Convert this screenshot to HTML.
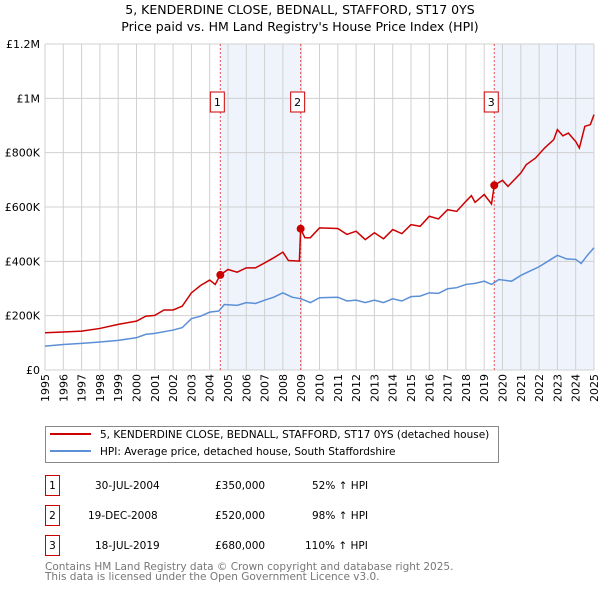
<!DOCTYPE html>
<html><head><meta charset="utf-8"><style>
body{margin:0;background:#fff;font-family:"DejaVu Sans","Liberation Sans",sans-serif;}
</style></head><body>
<svg width="600" height="590" xmlns="http://www.w3.org/2000/svg" font-family="DejaVu Sans, Liberation Sans, sans-serif">
<text x="300" y="14" text-anchor="middle" font-size="12.5">5, KENDERDINE CLOSE, BEDNALL, STAFFORD, ST17 0YS</text>
<text x="300" y="31" text-anchor="middle" font-size="12.5">Price paid vs. HM Land Registry's House Price Index (HPI)</text>
<g id="plot"></g>
<g>
<rect x="45.5" y="426.5" width="453" height="36" fill="#fff" stroke="#888"/>
<line x1="50" y1="434" x2="91" y2="434" stroke="#cc0000" stroke-width="2"/>
<text x="100" y="438" font-size="10.5">5, KENDERDINE CLOSE, BEDNALL, STAFFORD, ST17 0YS (detached house)</text>
<line x1="50" y1="451" x2="91" y2="451" stroke="#5b8fd6" stroke-width="2"/>
<text x="100" y="455" font-size="10.5">HPI: Average price, detached house, South Staffordshire</text>
</g>
<g font-size="10.5">
<rect x="45.5" y="475.5" width="14" height="20" fill="#fff" stroke="#cc0000"/><text x="52.5" y="489" text-anchor="middle">1</text>
<text x="95" y="489">30-JUL-2004</text><text x="215" y="489">£350,000</text><text x="312" y="489">52% ↑ HPI</text>
<rect x="45.5" y="505.5" width="14" height="20" fill="#fff" stroke="#cc0000"/><text x="52.5" y="519" text-anchor="middle">2</text>
<text x="88" y="519">19-DEC-2008</text><text x="215" y="519">£520,000</text><text x="312" y="519">98% ↑ HPI</text>
<rect x="45.5" y="535.5" width="14" height="20" fill="#fff" stroke="#cc0000"/><text x="52.5" y="549" text-anchor="middle">3</text>
<text x="95" y="549">18-JUL-2019</text><text x="215" y="549">£680,000</text><text x="305" y="549">110% ↑ HPI</text>
</g>
<text x="45" y="570" font-size="10.5" fill="#777">Contains HM Land Registry data © Crown copyright and database right 2025.</text>
<text x="45" y="580" font-size="10.5" fill="#777">This data is licensed under the Open Government Licence v3.0.</text>
</svg>
<script>
const yTicks=[0,200,400,600,800,1000,1200];
const yTickLabels=["£0","£200K","£400K","£600K","£800K","£1M","£1.2M"];
const years=[1995,1996,1997,1998,1999,2000,2001,2002,2003,2004,2005,2006,2007,2008,2009,2010,2011,2012,2013,2014,2015,2016,2017,2018,2019,2020,2021,2022,2023,2024,2025];
const hpiT=[1995,1996,1997,1998,1999,2000,2000.5,2001,2002,2002.5,2003,2003.5,2004,2004.5,2004.8,2005.5,2006,2006.5,2007,2007.5,2008,2008.5,2009,2009.5,2010,2011,2011.5,2012,2012.5,2013,2013.5,2014,2014.5,2015,2015.5,2016,2016.5,2017,2017.5,2018,2018.5,2019,2019.4,2019.8,2020.5,2021,2021.5,2022,2022.5,2023,2023.5,2024,2024.3,2024.6,2025];
const hpiV=[88,94,98,103,109,119,131,135,147,156,189,198,213,217,241,238,248,245,257,268,284,268,262,248,266,268,254,257,248,257,248,262,254,270,272,284,282,299,303,315,319,327,315,333,327,348,364,380,401,422,409,407,392,419,450];
const priceT=[1995,1996,1997,1998,1999,2000,2000.5,2001,2001.5,2002,2002.5,2003,2003.5,2004,2004.3,2004.58,2005,2005.5,2006,2006.5,2007,2007.5,2008,2008.3,2008.9,2008.97,2009.2,2009.5,2010,2011,2011.5,2012,2012.5,2013,2013.5,2014,2014.5,2015,2015.5,2016,2016.5,2017,2017.5,2018,2018.3,2018.5,2019,2019.4,2019.55,2020,2020.3,2021,2021.3,2021.8,2022.3,2022.8,2023,2023.3,2023.6,2024,2024.2,2024.5,2024.8,2025];
const priceV=[137,140,143,153,168,180,198,201,221,221,235,284,311,331,315,350,370,360,376,376,394,413,434,403,401,520,487,487,523,521,499,511,480,505,483,517,502,535,529,566,556,590,584,621,642,617,646,611,680,698,676,725,756,780,817,848,885,862,872,841,817,897,903,940];
const saleT=[2004.58,2008.97,2019.55];
const saleV=[350,520,680];
const saleLabels=["1","2","3"];
const shadeStart=[2004.58,2019.55];
const shadeEnd=[2008.97,2025];

const X0=45,X1=594,Y0=370,Y1=44;
const xs=t=>X0+(t-1995)/30*(X1-X0);
const ys=v=>Y0-v/1200*(Y0-Y1);
const NS="http://www.w3.org/2000/svg";
const plot=document.getElementById('plot');
function mk(tag,attrs,parent){const e=document.createElementNS(NS,tag);for(const k in attrs)e.setAttribute(k,attrs[k]);(parent||plot).appendChild(e);return e;}

shadeStart.forEach((s,i)=>{const r=mk('rect',{x:xs(s),y:Y1,width:xs(shadeEnd[i])-xs(s),height:Y0-Y1,fill:'#eef3fc'});

});
years.forEach(y=>{mk('line',{x1:xs(y),x2:xs(y),y1:Y1,y2:Y0,stroke:'#d0d0d0','stroke-width':1});
const t=mk('text',{x:0,y:0,transform:`translate(${xs(y)+4},${Y0+32}) rotate(-90)`,'font-size':11});t.textContent=y;

});
yTicks.forEach((v,i)=>{mk('line',{x1:X0,x2:X1,y1:ys(v),y2:ys(v),stroke:'#d0d0d0','stroke-width':1});
const t=mk('text',{x:X0-5,y:ys(v)+4,'text-anchor':'end','font-size':11});t.textContent=yTickLabels[i];

});
saleT.forEach((s,i)=>{const l=mk('line',{x1:xs(s),x2:xs(s),y1:Y1,y2:Y0,stroke:'#e05050','stroke-dasharray':'2,2','stroke-width':1});


const b=mk('rect',{x:xs(s)-10,y:92,width:14,height:20,fill:'#fff',stroke:'#cc0000'});


const t=mk('text',{x:xs(s)-3,y:106,'text-anchor':'middle','font-size':11});t.textContent=saleLabels[i];

});
const hp=mk('polyline',{points:hpiT.map((t,i)=>xs(t)+','+ys(hpiV[i])).join(' '),fill:'none',stroke:'#5b8fd6','stroke-width':1.5});


const pp=mk('polyline',{points:priceT.map((t,i)=>xs(t)+','+ys(priceV[i])).join(' '),fill:'none',stroke:'#cc0000','stroke-width':1.5});


saleT.forEach((s,i)=>{const c=mk('circle',{cx:xs(s),cy:ys(saleV[i]),r:4,fill:'#cc0000'});

});
</script>
</body></html>
